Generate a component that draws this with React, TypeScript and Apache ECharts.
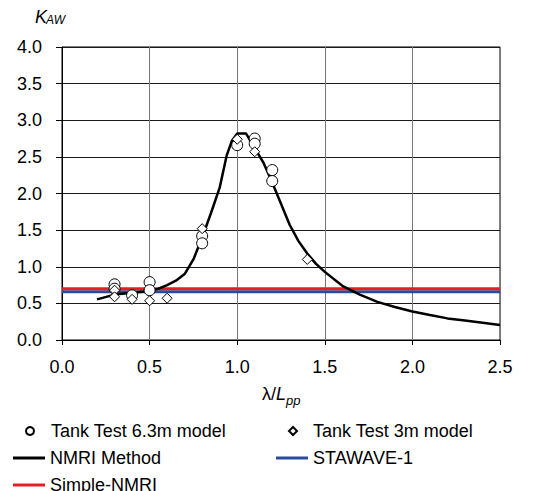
import React, { useEffect, useRef } from 'react';
import * as echarts from 'echarts';

const FONT = "'Liberation Sans', Arial, Helvetica, sans-serif";

// NMRI Method curve (λ/Lpp, K_AW)
const nmriX = [0.2, 0.3, 0.4, 0.5, 0.55, 0.6, 0.65, 0.7, 0.75, 0.8, 0.85, 0.9, 0.94, 0.97, 1.0, 1.05, 1.1, 1.15, 1.2, 1.25, 1.3, 1.35, 1.4, 1.45, 1.5, 1.6, 1.7, 1.8, 1.9, 2.0, 2.1, 2.2, 2.3, 2.4, 2.5];
const nmriY = [0.555, 0.62, 0.645, 0.67, 0.7, 0.75, 0.81, 0.9, 1.1, 1.4, 1.73, 2.08, 2.52, 2.72, 2.82, 2.82, 2.62, 2.42, 2.15, 1.86, 1.57, 1.35, 1.18, 1.04, 0.93, 0.74, 0.62, 0.52, 0.45, 0.39, 0.34, 0.295, 0.265, 0.235, 0.205];

// Tank tests
const tank63X = [0.3, 0.3, 0.4, 0.5, 0.5, 0.8, 0.8, 1.0, 1.1, 1.1, 1.2, 1.2];
const tank63Y = [0.76, 0.7, 0.61, 0.79, 0.68, 1.42, 1.32, 2.66, 2.75, 2.68, 2.32, 2.17];
const tank3X = [0.3, 0.3, 0.4, 0.5, 0.6, 0.8, 1.0, 1.1, 1.4];
const tank3Y = [0.68, 0.59, 0.555, 0.535, 0.57, 1.52, 2.74, 2.57, 1.1];

// Constant methods
const lineX = [0, 2.5];
const stawaveY = [0.66, 0.66];
const simpleY = [0.7, 0.7];

const xTicks = [0, 0.5, 1.0, 1.5, 2.0, 2.5];
const yTicks = [0, 0.5, 1.0, 1.5, 2.0, 2.5, 3.0, 3.5, 4.0];

const zip = (xs: number[], ys: number[]) => xs.map((x, i) => [x, ys[i]]);

const legendText = (padLeft: number) => ({
  fontSize: 18, fontFamily: FONT, color: '#000', lineHeight: 20, padding: [0, 0, 0, padLeft],
});

const lineLegend = (name: string, left: number, center: number) => ({
  data: [{ name, icon: 'rect' }],
  left,
  top: center - 10,
  padding: 0,
  itemWidth: 32,
  itemHeight: 3,
  selectedMode: false,
  textStyle: legendText(0),
});

const symLegend = (name: string, icon: string, iconCenter: number, textLeft: number, center: number) => ({
  data: [{ name, icon }],
  left: iconCenter - 4,
  top: center - 10,
  padding: 0,
  itemWidth: 8,
  itemHeight: 8,
  selectedMode: false,
  textStyle: legendText(textLeft - (iconCenter + 4 + 5)),
});

export default function App() {
  const ref = useRef<HTMLDivElement>(null);
  useEffect(() => {
    document.body.style.margin = '0';
    const chart = echarts.init(ref.current!, null, { renderer: 'svg' });
    chart.setOption({
      animation: false,
      backgroundColor: '#fff',
      textStyle: { fontFamily: FONT },
      grid: { left: 62, right: 35, top: 47, bottom: 151, show: true, borderColor: '#000', borderWidth: 1, backgroundColor: 'transparent' },
      xAxis: {
        type: 'value',
        min: xTicks[0],
        max: xTicks[xTicks.length - 1],
        interval: 0.5,
        axisLine: { show: true, onZero: false, lineStyle: { color: '#000', width: 1 } },
        axisTick: { show: true, inside: false, length: 5, lineStyle: { color: '#000' } },
        axisLabel: { fontSize: 18, fontFamily: FONT, color: '#000', margin: 18, formatter: (v: number) => v.toFixed(1) },
        splitLine: { show: true, lineStyle: { color: '#777', width: 1 } },
      },
      yAxis: {
        type: 'value',
        min: yTicks[0],
        max: yTicks[yTicks.length - 1],
        interval: 0.5,
        axisLine: { show: true, onZero: false, lineStyle: { color: '#000', width: 1 } },
        axisTick: { show: true, inside: false, length: 6, lineStyle: { color: '#000' } },
        axisLabel: { fontSize: 18, fontFamily: FONT, color: '#000', margin: 20, formatter: (v: number) => v.toFixed(1) },
        splitLine: { show: true, lineStyle: { color: '#1a1a1a', width: 1 } },
      },
      legend: [
        symLegend('Tank Test 6.3m model', 'circle', 29, 50, 431),
        symLegend('Tank Test 3m model', 'diamond', 292, 312, 431),
        lineLegend('NMRI Method', 13, 458),
        lineLegend('STAWAVE-1', 276, 458),
        lineLegend('Simple-NMRI', 13, 485),
      ],
      graphic: [
        { type: 'text', x: 35, y: 17, style: { text: 'K', fontSize: 18, fontStyle: 'italic', fontFamily: FONT, fill: '#000', align: 'left', verticalAlign: 'middle' } },
        { type: 'text', x: 46, y: 20, style: { text: 'AW', fontSize: 12, fontStyle: 'italic', fontFamily: FONT, fill: '#000', align: 'left', verticalAlign: 'middle' } },
        { type: 'text', x: 276, y: 394, style: { text: 'λ/', fontSize: 18, fontFamily: FONT, fill: '#000', align: 'right', verticalAlign: 'middle' } },
        { type: 'text', x: 276, y: 394, style: { text: 'L', fontSize: 18, fontStyle: 'italic', fontFamily: FONT, fill: '#000', align: 'left', verticalAlign: 'middle' } },
        { type: 'text', x: 286, y: 400, style: { text: 'pp', fontSize: 13, fontStyle: 'italic', fontFamily: FONT, fill: '#000', align: 'left', verticalAlign: 'middle' } },
      ],
      series: [
        {
          name: 'STAWAVE-1', type: 'line', symbol: 'none', data: zip(lineX, stawaveY),
          lineStyle: { color: '#2b4c9b', width: 3 }, itemStyle: { color: '#2b4c9b' }, z: 2,
        },
        {
          name: 'Simple-NMRI', type: 'line', symbol: 'none', data: zip(lineX, simpleY),
          lineStyle: { color: '#e41e26', width: 3 }, itemStyle: { color: '#e41e26' }, z: 3,
        },
        {
          name: 'NMRI Method', type: 'line', symbol: 'none', data: zip(nmriX, nmriY),
          lineStyle: { color: '#000', width: 2.5 }, itemStyle: { color: '#000' }, z: 4,
        },
        {
          name: 'Tank Test 6.3m model', type: 'scatter', symbol: 'circle', symbolSize: 11, data: zip(tank63X, tank63Y),
          itemStyle: { color: '#fff', borderColor: '#000', borderWidth: 1, opacity: 1 }, z: 5,
        },
        {
          name: 'Tank Test 3m model', type: 'scatter', symbol: 'diamond', symbolSize: 10, data: zip(tank3X, tank3Y),
          itemStyle: { color: '#fff', borderColor: '#000', borderWidth: 1, opacity: 1 }, z: 6,
        },
      ],
    });
    return () => chart.dispose();
  }, []);
  return <div ref={ref} style={{ width: 535, height: 491 }} />;
}
